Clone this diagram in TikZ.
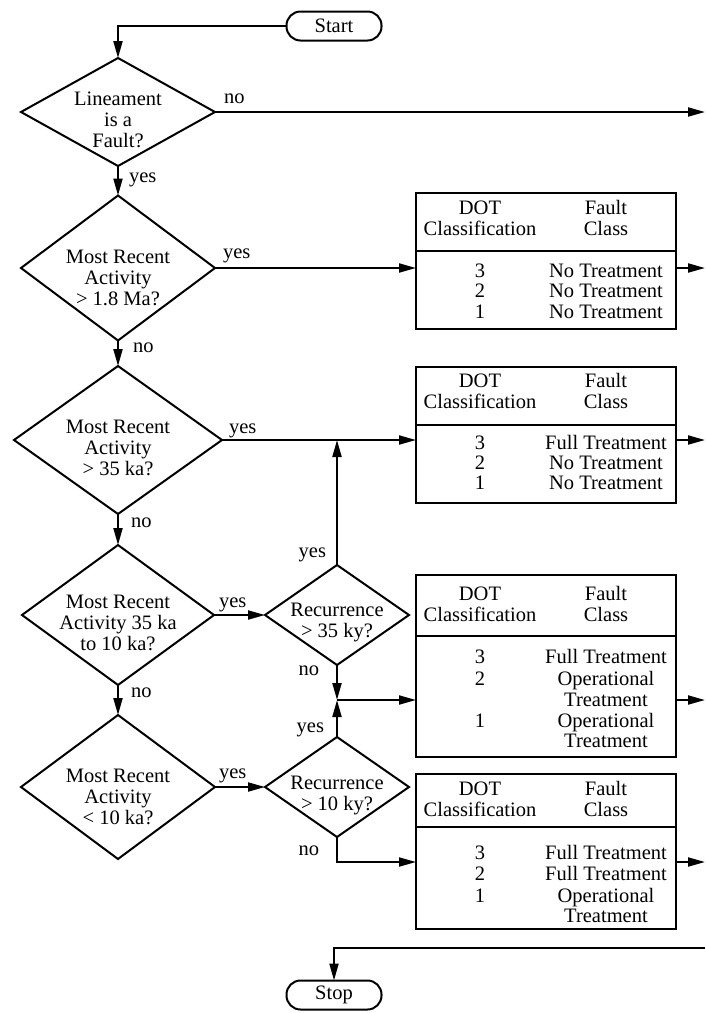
\documentclass[tikz,border=0pt]{standalone}
\usepackage{fontspec}
\setmainfont{Liberation Serif}
\usetikzlibrary{shapes.geometric}
\usetikzlibrary{arrows.meta}

\begin{document}
\begin{tikzpicture}[x=1pt, y=-1pt, line width=2pt,
        every node/.style={font=\fontsize{20.5}{21}\selectfont},
        decision/.style={diamond, draw, inner sep=0pt, outer sep=0pt},
        terminal/.style={draw, rounded corners=14pt, minimum width=95pt, minimum height=29pt, inner sep=0pt, outer sep=0pt},
        classbox/.style={draw, minimum width=260pt, inner sep=0pt, outer sep=0pt},
        qtext/.style={align=center, inner sep=0pt},
        rowtxt/.style={anchor=base, inner sep=0pt},
        lbl/.style={inner sep=0pt},
        arr/.style={-{Triangle[length=17pt,width=9pt]}}]
        \useasboundingbox (0,0) rectangle (705,1013);

        % start and stop
        \node[terminal] (start) at (334,26) {Start};
        \node[terminal] (stop) at (334,995) {Stop};

        % questions
        \node[decision, minimum width=194pt, minimum height=108pt] (d1) at (118,112) {};
        \node[decision, minimum width=194pt, minimum height=145pt] (d2) at (118,268) {};
        \node[decision, minimum width=208pt, minimum height=148pt] (d3) at (118,440) {};
        \node[decision, minimum width=192pt, minimum height=140pt] (d4) at (118,615) {};
        \node[decision, minimum width=194pt, minimum height=144pt] (d5) at (118,787) {};
        \node[decision, minimum width=144pt, minimum height=100pt] (r1) at (337,615) {};
        \node[decision, minimum width=144pt, minimum height=100pt] (r2) at (337,787) {};

        \node[qtext] (d1t) at (118,120) {Lineament\\is a\\Fault?};
        \node[qtext] (d2t) at (118,278) {Most Recent\\Activity\\> 1.8 Ma?};
        \node[qtext] (d3t) at (118,448) {Most Recent\\Activity\\> 35 ka?};
        \node[qtext] (d4t) at (118,623) {Most Recent\\Activity 35 ka\\to 10 ka?};
        \node[qtext] (d5t) at (118,797) {Most Recent\\Activity\\< 10 ka?};
        \node[qtext] (r1t) at (337,622) {Recurrence\\> 35 ky?};
        \node[qtext] (r2t) at (337,795) {Recurrence\\> 10 ky?};

        % classification boxes
        \node[classbox, minimum height=136pt] (b1) at (546,261) {};
        \node[classbox, minimum height=136pt] (b2) at (546,435) {};
        \node[classbox, minimum height=182pt] (b3) at (546,666) {};
        \node[classbox, minimum height=155pt] (b4) at (546,851.5) {};

        % headers
        \foreach \b/\h/\c in {b1/58/25, b2/58/24, b3/61/29, b4/53/25} {
            \draw ([yshift=-\h]\b.north west) -- ([yshift=-\h]\b.north east);
            \node[qtext] (\b-dot) at ([xshift=64, yshift=-\c]\b.north west) {DOT\\Classification};
            \node[qtext] (\b-fault) at ([xshift=190, yshift=-\c]\b.north west) {Fault\\Class};
        }

        % rows
        \foreach \y/\n/\t [count=\i] in {277/3/No Treatment, 297/2/No Treatment, 318/1/No Treatment} {
            \node[rowtxt] (b1n\i) at (480,\y) {\n};
            \node[rowtxt] (b1c\i) at (606,\y) {\t};
        }
        \foreach \y/\n/\t [count=\i] in {449/3/Full Treatment, 469/2/No Treatment, 489/1/No Treatment} {
            \node[rowtxt] (b2n\i) at (480,\y) {\n};
            \node[rowtxt] (b2c\i) at (606,\y) {\t};
        }
        \foreach \y/\n [count=\i] in {663/3, 685/2, 727/1}
            \node[rowtxt] (b3n\i) at (480,\y) {\n};
        \foreach \y/\t [count=\i] in {663/Full Treatment, 685/Operational, 706/Treatment, 727/Operational, 747/Treatment}
            \node[rowtxt] (b3c\i) at (606,\y) {\t};
        \foreach \y/\n [count=\i] in {859/3, 880/2, 902/1}
            \node[rowtxt] (b4n\i) at (480,\y) {\n};
        \foreach \y/\t [count=\i] in {859/Full Treatment, 880/Full Treatment, 902/Operational, 922/Treatment}
            \node[rowtxt] (b4c\i) at (606,\y) {\t};

        % free ends
        \coordinate (edge) at (705,0);
        \coordinate (j1) at (337,700);
        \coordinate (j2) at (337,862);
        \coordinate (ret) at (705,948);

        % connectors
        \draw[arr] (start.west) -| (d1.north);
        \draw[arr] (d1.east) -- (d1.east -| edge);
        \draw[arr] (d1.south) -- (d2.north);
        \draw[arr] (d2.east) -- (d2.east -| b1.west);
        \draw[arr] (d2.east -| b1.east) -- (d2.east -| edge);
        \draw[arr] (d2.south) -- (d3.north);
        \draw[arr] (d3.east) -- (d3.east -| b2.west);
        \draw[arr] (d3.east -| b2.east) -- (d3.east -| edge);
        \draw[arr] (r1.north) -- (r1.north |- d3.east);
        \draw[arr] (d3.south) -- (d4.north);
        \draw[arr] (d4.east) -- (r1.west);
        \draw[arr] (r1.south) -- (j1);
        \draw[arr] (r2.north) -- (j1);
        \draw[arr] (j1) -- (j1 -| b3.west);
        \draw[arr] (j1 -| b3.east) -- (j1 -| edge);
        \draw[arr] (d4.south) -- (d5.north);
        \draw[arr] (d5.east) -- (r2.west);
        \draw[arr] (r2.south) -- (j2) -- (j2 -| b4.west);
        \draw[arr] (j2 -| b4.east) -- (j2 -| edge);
        \draw[arr] (ret) -| (stop.north);

        % yes / no
        \node[lbl, anchor=base west] (l1) at (223,103) {no};
        \node[lbl, anchor=base west] (l2) at (128,182) {yes};
        \node[lbl, anchor=base west] (l3) at (222,258) {yes};
        \node[lbl, anchor=base west] (l4) at (132,352) {no};
        \node[lbl, anchor=base west] (l5) at (228,433) {yes};
        \node[lbl, anchor=base west] (l6) at (130,527) {no};
        \node[lbl, anchor=base west] (l7) at (218,607) {yes};
        \node[lbl, anchor=base west] (l8) at (130,697) {no};
        \node[lbl, anchor=base west] (l9) at (218,778) {yes};
        \node[lbl, anchor=base east] (l10) at (327,557) {yes};
        \node[lbl, anchor=base east] (l11) at (320,675) {no};
        \node[lbl, anchor=base east] (l12) at (325,732) {yes};
        \node[lbl, anchor=base east] (l13) at (320,855) {no};
\end{tikzpicture}
\end{document}
